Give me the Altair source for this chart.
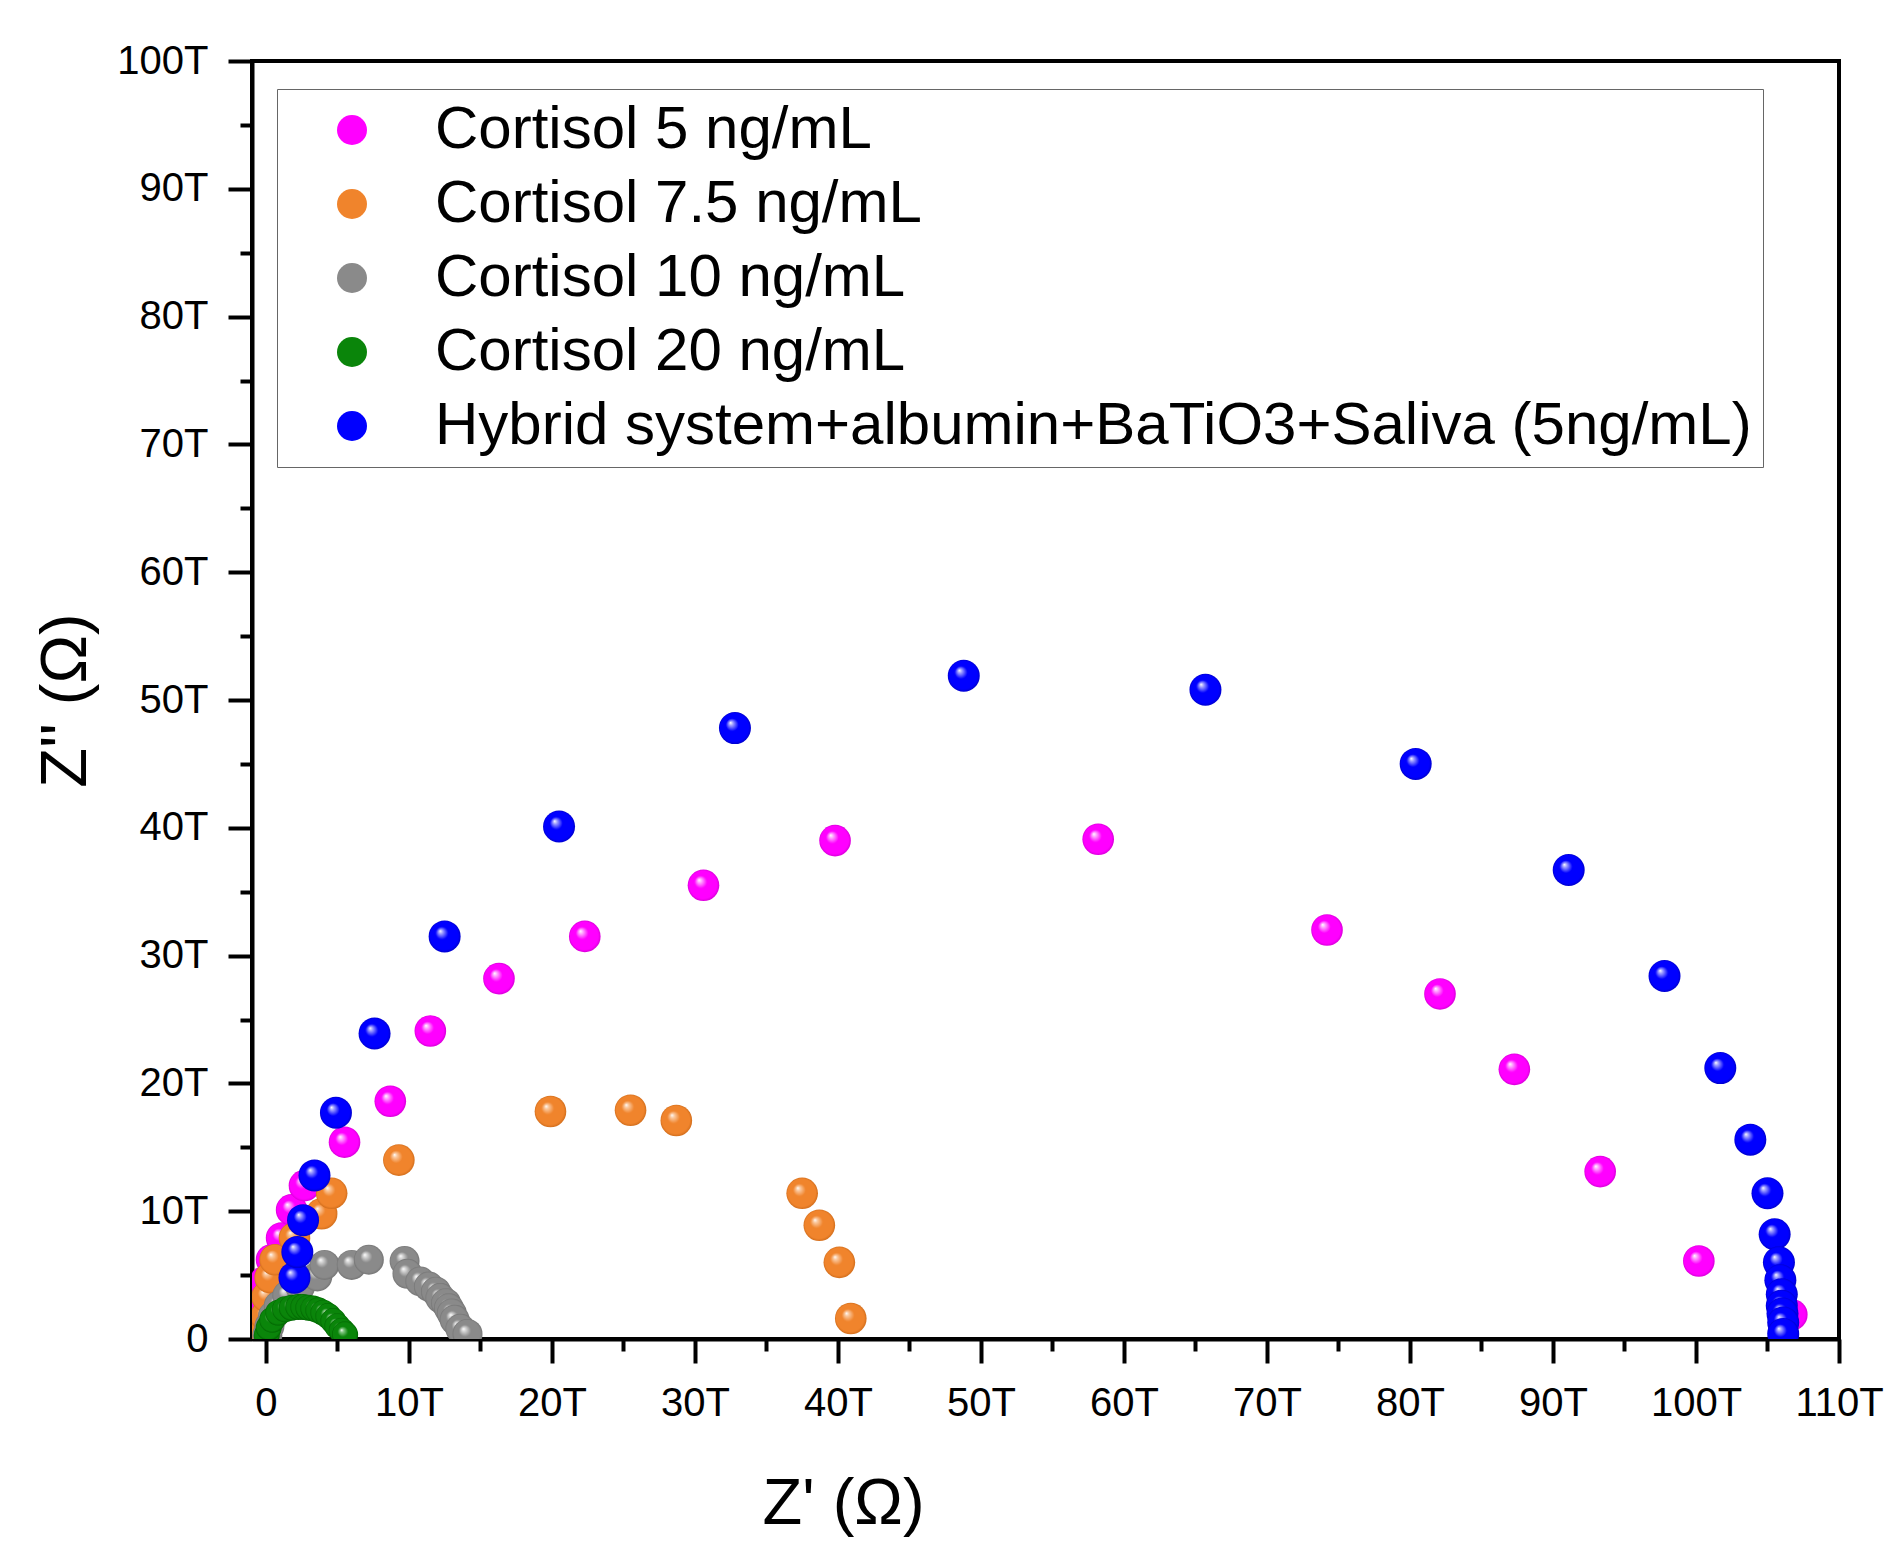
import altair as alt
import pandas as pd

# ---------------- data (Z' and Z'' in T-ohm) ----------------
series_names = [
    "Cortisol 5 ng/mL",
    "Cortisol 7.5 ng/mL",
    "Cortisol 10 ng/mL",
    "Cortisol 20 ng/mL",
    "Hybrid system+albumin+BaTiO3+Saliva (5ng/mL)",
]

magenta_x = [-0.2, -0.2, -0.15, -0.05, 0.4, 1.1, 1.8, 2.7, 5.5, 8.7, 11.5, 16.3, 22.3, 30.6, 39.8, 58.2, 74.2, 82.1, 87.3, 93.3, 100.2, 106.7]
magenta_y = [0.5, 1.6, 2.9, 4.5, 6.2, 7.9, 10.1, 12.0, 15.4, 18.6, 24.1, 28.2, 31.5, 35.5, 39.0, 39.1, 32.0, 27.0, 21.1, 13.1, 6.1, 1.9]

orange_x = [0.0, 0.02, 0.08, 0.3, 0.65, 2.0, 3.9, 4.6, 9.3, 19.9, 25.5, 28.7, 37.5, 38.7, 40.1, 40.9]
orange_y = [0.6, 1.8, 3.3, 4.8, 6.2, 7.9, 9.8, 11.4, 14.0, 17.8, 17.9, 17.1, 11.4, 8.9, 6.0, 1.6]

gray_x = [0.1, 0.25, 0.5, 0.9, 1.5, 2.4, 3.6, 4.1, 6.0, 7.2, 9.7, 9.9, 10.8, 11.4, 11.9, 12.2, 12.6, 12.8, 13.0, 13.2, 13.6, 14.1]
gray_y = [0.3, 1.0, 1.8, 2.6, 3.4, 4.1, 4.9, 5.8, 5.8, 6.2, 6.1, 5.1, 4.5, 4.1, 3.7, 3.2, 2.8, 2.4, 2.0, 1.5, 0.8, 0.4]

green_x = [0.06, 0.2, 0.45, 0.87, 1.34, 1.81, 2.27, 2.62, 2.97, 3.32, 3.67, 4.02, 4.37, 4.72, 5.0, 5.3, 5.54]
green_y = [0.3, 0.9, 1.5, 2.06, 2.32, 2.45, 2.5, 2.5, 2.45, 2.39, 2.24, 2.06, 1.79, 1.4, 1.0, 0.65, 0.36]

blue_x = [2.0, 2.2, 2.6, 3.4, 4.9, 7.6, 12.5, 20.5, 32.8, 48.8, 65.7, 80.4, 91.1, 97.8, 101.7, 103.8, 105.0, 105.5, 105.8, 105.9, 106.0, 106.0, 106.05, 106.1, 106.1]
blue_y = [4.8, 6.8, 9.3, 12.8, 17.7, 23.9, 31.5, 40.1, 47.8, 51.9, 50.8, 45.0, 36.7, 28.4, 21.2, 15.6, 11.4, 8.2, 6.0, 4.6, 3.5, 2.6, 2.0, 1.3, 0.4]

x_ticks = list(range(0, 111, 5))
y_ticks = list(range(0, 101, 5))

# ---------------- styles ----------------
base_colors = ["#FF00FF", "#F0842C", "#8A8A8A", "#0A850A", "#0000FF"]
light_colors = ["#FFA8FF", "#FAC9A0", "#D6D6D6", "#86C986", "#A0A0FF"]
edge_colors = ["#D800D8", "#D26E1C", "#747474", "#006400", "#0000CC"]
sizes = [1000, 1000, 900, 680, 1024]

all_x = [magenta_x, orange_x, gray_x, green_x, blue_x]
all_y = [magenta_y, orange_y, gray_y, green_y, blue_y]

rows = []
for name, xs, ys in zip(series_names, all_x, all_y):
    for xv, yv in zip(xs, ys):
        rows.append({"series": name, "zr": xv, "zi": yv})
df = pd.DataFrame(rows)

FONT = "Liberation Sans"

x_axis = alt.Axis(
    values=x_ticks,
    labelExpr="datum.value % 10 === 0 ? (datum.value === 0 ? '0' : datum.value + 'T') : ''",
    tickSize={"condition": {"test": "datum.value % 10 === 0", "value": 24}, "value": 12},
    labelPadding=20,
    title="Z' (Ω)",
    titleX=591,
    titleY=184,
    titleAlign="center",
    titleBaseline="alphabetic",
    grid=False,
)
y_axis = alt.Axis(
    values=y_ticks,
    labelExpr="datum.value % 10 === 0 ? (datum.value === 0 ? '0' : datum.value + 'T') : ''",
    tickSize={"condition": {"test": "datum.value % 10 === 0", "value": 24}, "value": 12},
    labelPadding=20,
    title="Z'' (Ω)",
    titleX=-167,
    titleY=639,
    titleAngle=-90,
    titleAlign="center",
    titleBaseline="alphabetic",
    grid=False,
)

x_enc = alt.X("zr:Q", scale=alt.Scale(domain=[-0.97, 110], nice=False, zero=False), axis=x_axis)
y_enc = alt.Y("zi:Q", scale=alt.Scale(domain=[0, 100], nice=False, zero=False), axis=y_axis)

base = alt.Chart(df).encode(x=x_enc, y=y_enc)

legend_layer = base.mark_point(filled=True, opacity=0, size=900, shape="circle", clip=True).encode(
    color=alt.Color(
        "series:N",
        scale=alt.Scale(domain=series_names, range=base_colors),
        legend=alt.Legend(
            title=None,
            orient="none",
            legendX=25,
            legendY=28,
            padding=11,
            symbolOffset=34,
            labelOffset=53,
            symbolSize=900,
            symbolType="circle",
            symbolOpacity=1,
            symbolStrokeWidth=0,
            rowPadding=14,
            labelFontSize=60,
            labelFont=FONT,
            labelColor="black",
            labelLimit=3000,
            strokeColor="#666666",
            fillColor="white",
        ),
    )
)

layers = [legend_layer]
for i, name in enumerate(series_names):
    grad = {
        "gradient": "radial",
        "x1": 0.36, "y1": 0.33, "r1": 0,
        "x2": 0.5, "y2": 0.5, "r2": 0.5,
        "stops": [
            {"offset": 0.0, "color": "#FFFFFF"},
            {"offset": 0.13, "color": light_colors[i]},
            {"offset": 0.4, "color": base_colors[i]},
            {"offset": 0.88, "color": base_colors[i]},
            {"offset": 1.0, "color": edge_colors[i]},
        ],
    }
    layers.append(
        base.transform_filter(alt.datum.series == name).mark_point(
            filled=True, shape="circle", size=sizes[i], fill=grad, strokeWidth=0, opacity=1, clip=True
        )
    )

chart = (
    alt.layer(*layers)
    .properties(
        width=1587,
        height=1278,
        padding={"left": 244, "top": 53, "right": 56, "bottom": 207},
        autosize=alt.AutoSizeParams(type="none"),
        background="white",
    )
    .configure_view(stroke="black", strokeWidth=4)
    .configure_axis(
        domainColor="black",
        domainWidth=4,
        tickColor="black",
        tickWidth=4,
        labelFont=FONT,
        labelFontSize=40,
        labelColor="black",
        labelFlush=False,
        labelOverlap=False,
        titleFont=FONT,
        titleFontSize=65,
        titleFontWeight="normal",
        titleColor="black",
    )
)

chart.save("out.html", embed_options={"renderer": "svg", "actions": False})
